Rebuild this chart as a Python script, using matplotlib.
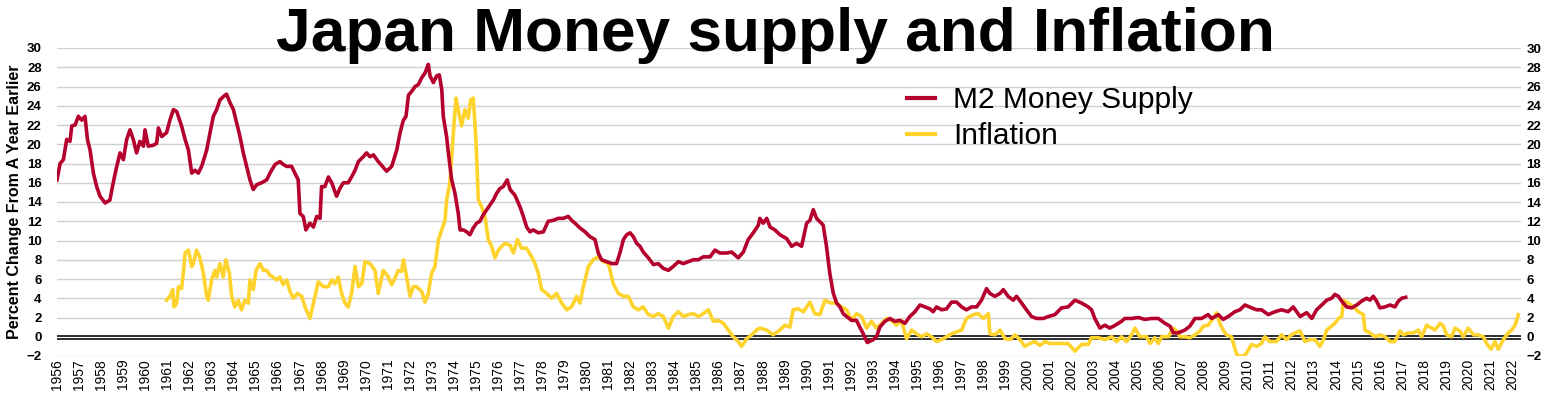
import matplotlib
matplotlib.use("Agg")
import matplotlib.pyplot as plt
import numpy as np

plt.rcParams['font.family'] = ['Liberation Sans', 'DejaVu Sans']

# M2 money supply, % change from a year earlier
m2_years = [
    1956.00, 1956.14, 1956.29, 1956.44, 1956.59, 1956.67, 1956.82, 1956.97, 1957.12, 1957.27,
    1957.38, 1957.50, 1957.65, 1957.80, 1957.95, 1958.18, 1958.40, 1958.55, 1958.71, 1958.86,
    1959.01, 1959.16, 1959.31, 1959.46, 1959.61, 1959.76, 1959.92, 1959.99, 1960.14, 1960.37,
    1960.52, 1960.60, 1960.75, 1960.97, 1961.12, 1961.28, 1961.43, 1961.65, 1961.81, 1961.96,
    1962.11, 1962.26, 1962.41, 1962.56, 1962.79, 1962.94, 1963.09, 1963.24, 1963.39, 1963.57,
    1963.69, 1963.85, 1964.00, 1964.15, 1964.30, 1964.45, 1964.60, 1964.75, 1964.90, 1965.06,
    1965.28, 1965.51, 1965.66, 1965.89, 1966.11, 1966.26, 1966.42, 1966.64, 1966.79, 1966.94,
    1967.02, 1967.17, 1967.29, 1967.47, 1967.63, 1967.78, 1967.93, 1968.00, 1968.15, 1968.31,
    1968.46, 1968.68, 1968.83, 1968.99, 1969.21, 1969.36, 1969.52, 1969.67, 1969.89, 1970.04,
    1970.20, 1970.35, 1970.57, 1970.65, 1970.95, 1971.18, 1971.41, 1971.56, 1971.71, 1971.83,
    1971.94, 1972.09, 1972.24, 1972.39, 1972.54, 1972.69, 1972.84, 1972.92, 1973.07, 1973.22,
    1973.34, 1973.45, 1973.52, 1973.67, 1973.75, 1973.90, 1974.05, 1974.20, 1974.28, 1974.43,
    1974.58, 1974.73, 1974.88, 1975.03, 1975.18, 1975.34, 1975.49, 1975.64, 1975.79, 1975.94,
    1976.09, 1976.24, 1976.42, 1976.55, 1976.77, 1977.00, 1977.15, 1977.30, 1977.45, 1977.60,
    1977.83, 1978.06, 1978.28, 1978.51, 1978.74, 1978.96, 1979.19, 1979.34, 1979.49, 1979.72,
    1979.95, 1980.17, 1980.40, 1980.55, 1980.70, 1980.93, 1981.16, 1981.38, 1981.53, 1981.69,
    1981.84, 1981.99, 1982.14, 1982.29, 1982.44, 1982.59, 1982.82, 1983.05, 1983.27, 1983.50,
    1983.73, 1983.95, 1984.18, 1984.41, 1984.63, 1984.86, 1985.09, 1985.31, 1985.62, 1985.84,
    1986.07, 1986.37, 1986.60, 1986.90, 1987.13, 1987.35, 1987.58, 1987.81, 1987.88, 1988.03,
    1988.19, 1988.34, 1988.56, 1988.79, 1989.09, 1989.32, 1989.54, 1989.77, 1990.00, 1990.15,
    1990.30, 1990.45, 1990.75, 1990.90, 1991.05, 1991.21, 1991.36, 1991.51, 1991.66, 1991.81,
    1992.04, 1992.26, 1992.41, 1992.57, 1992.75, 1993.02, 1993.17, 1993.32, 1993.55, 1993.78,
    1994.00, 1994.23, 1994.46, 1994.68, 1994.91, 1995.14, 1995.36, 1995.59, 1995.74, 1995.89,
    1996.12, 1996.35, 1996.57, 1996.80, 1997.03, 1997.25, 1997.48, 1997.71, 1997.93, 1998.16,
    1998.31, 1998.54, 1998.77, 1998.92, 1999.14, 1999.37, 1999.52, 1999.75, 1999.97, 2000.20,
    2000.43, 2000.73, 2000.96, 2001.26, 2001.56, 2001.86, 2002.17, 2002.47, 2002.77, 2002.92,
    2003.07, 2003.30, 2003.53, 2003.75, 2004.00, 2004.28, 2004.43, 2004.74, 2005.04, 2005.34,
    2005.64, 2005.95, 2006.25, 2006.48, 2006.63, 2006.85, 2007.16, 2007.38, 2007.61, 2007.91,
    2008.21, 2008.37, 2008.67, 2008.89, 2009.12, 2009.42, 2009.65, 2009.88, 2010.18, 2010.41,
    2010.63, 2010.94, 2011.24, 2011.54, 2011.84, 2012.07, 2012.38, 2012.68, 2012.91, 2013.13,
    2013.36, 2013.59, 2013.81, 2013.96, 2014.12, 2014.27, 2014.49, 2014.72, 2014.95, 2015.17,
    2015.40, 2015.55, 2015.70, 2015.85, 2016.00, 2016.23, 2016.46, 2016.68, 2016.84, 2016.99,
    2017.17,
]
m2_values = [
    16.3, 18.0, 18.4, 20.5, 20.3, 21.9, 22.0, 22.9, 22.5, 22.9,
    20.5, 19.4, 17.0, 15.6, 14.6, 13.9, 14.2, 16.0, 17.7, 19.1,
    18.4, 20.5, 21.5, 20.5, 19.1, 20.3, 19.8, 21.5, 19.8, 19.9,
    20.1, 21.7, 20.8, 21.2, 22.5, 23.6, 23.4, 21.9, 20.5, 19.4,
    17.0, 17.3, 17.0, 17.7, 19.4, 21.2, 22.9, 23.6, 24.6, 25.0,
    25.2, 24.3, 23.6, 22.2, 20.8, 19.1, 17.7, 16.3, 15.3, 15.8,
    16.0, 16.3, 17.0, 17.9, 18.2, 17.9, 17.7, 17.7, 17.0, 16.3,
    12.8, 12.5, 11.1, 11.8, 11.4, 12.5, 12.3, 15.6, 15.6, 16.6,
    16.0, 14.6, 15.4, 16.0, 16.0, 16.6, 17.3, 18.2, 18.7, 19.1,
    18.7, 18.9, 18.2, 18.0, 17.2, 17.7, 19.4, 21.2, 22.5, 22.9,
    25.1, 25.5, 26.0, 26.2, 26.9, 27.4, 28.3, 27.1, 26.4, 27.1,
    27.2, 25.7, 22.9, 20.8, 19.1, 16.3, 14.9, 12.8, 11.1, 11.1,
    10.9, 10.6, 11.3, 11.8, 12.0, 12.7, 13.2, 13.7, 14.2, 14.9,
    15.4, 15.6, 16.3, 15.3, 14.7, 13.5, 12.5, 11.4, 10.9, 11.1,
    10.8, 10.9, 12.0, 12.1, 12.3, 12.3, 12.5, 12.1, 11.8, 11.3,
    10.9, 10.4, 10.1, 8.7, 8.0, 7.8, 7.6, 7.6, 8.7, 10.1,
    10.6, 10.8, 10.4, 9.7, 9.4, 8.8, 8.2, 7.5, 7.6, 7.1,
    6.9, 7.3, 7.8, 7.6, 7.8, 8.0, 8.0, 8.3, 8.3, 9.0,
    8.7, 8.7, 8.8, 8.2, 8.8, 10.1, 10.8, 11.6, 12.3, 11.8,
    12.3, 11.4, 11.1, 10.6, 10.2, 9.4, 9.7, 9.4, 11.8, 12.1,
    13.2, 12.3, 11.6, 9.4, 6.6, 4.5, 3.5, 3.1, 2.4, 2.1,
    1.7, 1.7, 1.0, 0.3, -0.6, -0.3, 0.0, 1.0, 1.6, 1.9,
    1.6, 1.7, 1.4, 2.1, 2.6, 3.3, 3.1, 2.9, 2.6, 3.1,
    2.8, 2.9, 3.6, 3.6, 3.1, 2.8, 3.1, 3.1, 3.8, 5.0,
    4.5, 4.2, 4.5, 4.9, 4.2, 3.8, 4.2, 3.5, 2.8, 2.1,
    1.9, 1.9, 2.1, 2.3, 3.0, 3.1, 3.8, 3.5, 3.1, 2.8,
    1.9, 0.9, 1.2, 0.9, 1.2, 1.6, 1.9, 1.9, 2.0, 1.8,
    1.9, 1.9, 1.4, 1.1, 0.4, 0.4, 0.7, 1.1, 1.9, 1.9,
    2.3, 1.9, 2.3, 1.8, 2.1, 2.6, 2.8, 3.3, 3.0, 2.8,
    2.8, 2.3, 2.6, 2.8, 2.6, 3.1, 2.1, 2.5, 1.9, 2.8,
    3.3, 3.8, 4.0, 4.4, 4.2, 3.7, 3.1, 3.0, 3.3, 3.7,
    4.0, 3.8, 4.2, 3.7, 3.0, 3.1, 3.3, 3.1, 3.7, 4.0,
    4.1,
]

# CPI inflation, % change from a year earlier
infl_years = [
    1960.97, 1961.12, 1961.25, 1961.31, 1961.43, 1961.51, 1961.65, 1961.73, 1961.81, 1961.96,
    1962.11, 1962.18, 1962.33, 1962.48, 1962.64, 1962.79, 1962.86, 1963.01, 1963.16, 1963.24,
    1963.39, 1963.54, 1963.66, 1963.82, 1963.92, 1964.07, 1964.22, 1964.37, 1964.52, 1964.68,
    1964.75, 1964.90, 1965.03, 1965.21, 1965.36, 1965.51, 1965.66, 1965.81, 1965.96, 1966.11,
    1966.26, 1966.42, 1966.57, 1966.72, 1966.90, 1967.10, 1967.25, 1967.47, 1967.63, 1967.85,
    1968.08, 1968.31, 1968.46, 1968.61, 1968.76, 1968.91, 1969.06, 1969.21, 1969.36, 1969.52,
    1969.67, 1969.82, 1969.97, 1970.20, 1970.42, 1970.57, 1970.80, 1971.03, 1971.18, 1971.33,
    1971.48, 1971.63, 1971.71, 1971.86, 1972.01, 1972.16, 1972.31, 1972.54, 1972.69, 1972.84,
    1972.99, 1973.14, 1973.30, 1973.45, 1973.60, 1973.67, 1973.82, 1973.90, 1974.01, 1974.10,
    1974.20, 1974.35, 1974.50, 1974.65, 1974.76, 1974.88, 1975.00, 1975.11, 1975.26, 1975.41,
    1975.56, 1975.71, 1975.86, 1976.02, 1976.17, 1976.32, 1976.55, 1976.70, 1976.88, 1977.07,
    1977.30, 1977.53, 1977.68, 1977.83, 1977.98, 1978.21, 1978.44, 1978.66, 1978.89, 1979.12,
    1979.34, 1979.57, 1979.72, 1979.87, 1980.10, 1980.32, 1980.55, 1980.78, 1981.01, 1981.23,
    1981.46, 1981.69, 1981.91, 1982.14, 1982.37, 1982.59, 1982.82, 1983.05, 1983.27, 1983.50,
    1983.73, 1983.95, 1984.18, 1984.41, 1984.63, 1984.86, 1985.09, 1985.31, 1985.54, 1985.77,
    1986.00, 1986.22, 1986.45, 1986.67, 1986.90, 1987.05, 1987.28, 1987.51, 1987.73, 1987.88,
    1988.18, 1988.48, 1988.79, 1989.01, 1989.24, 1989.39, 1989.62, 1989.85, 1990.15, 1990.37,
    1990.60, 1990.83, 1990.98, 1991.13, 1991.36, 1991.58, 1991.81, 1992.04, 1992.26, 1992.49,
    1992.72, 1992.94, 1993.17, 1993.40, 1993.62, 1993.85, 1994.08, 1994.30, 1994.53, 1994.76,
    1994.99, 1995.21, 1995.44, 1995.67, 1995.89, 1996.12, 1996.35, 1996.57, 1996.80, 1997.03,
    1997.25, 1997.56, 1997.78, 1998.01, 1998.24, 1998.31, 1998.54, 1998.77, 1999.00, 1999.22,
    1999.45, 1999.67, 1999.90, 2000.13, 2000.35, 2000.58, 2000.81, 2001.03, 2001.26, 2001.86,
    2002.17, 2002.47, 2002.77, 2002.92, 2003.23, 2003.53, 2003.83, 2004.06, 2004.28, 2004.51,
    2004.74, 2004.89, 2005.11, 2005.42, 2005.57, 2005.79, 2005.95, 2006.10, 2006.40, 2006.63,
    2006.78, 2006.93, 2007.16, 2007.38, 2007.61, 2007.84, 2007.99, 2008.21, 2008.44, 2008.59,
    2008.74, 2008.89, 2009.04, 2009.27, 2009.42, 2009.54, 2009.80, 2009.95, 2010.18, 2010.41,
    2010.63, 2010.78, 2011.01, 2011.31, 2011.54, 2011.77, 2011.99, 2012.15, 2012.38, 2012.60,
    2012.83, 2013.06, 2013.28, 2013.44, 2013.59, 2013.81, 2013.96, 2014.12, 2014.27, 2014.34,
    2014.57, 2014.80, 2015.02, 2015.25, 2015.32, 2015.55, 2015.78, 2016.00, 2016.23, 2016.46,
    2016.68, 2016.91, 2017.06, 2017.29, 2017.52, 2017.74, 2017.89, 2018.12, 2018.35, 2018.50,
    2018.73, 2018.88, 2019.03, 2019.25, 2019.41, 2019.63, 2019.78, 2020.01, 2020.24, 2020.46,
    2020.69, 2020.84, 2021.04, 2021.22, 2021.37, 2021.60, 2021.82, 2021.98, 2022.13, 2022.28,
]
infl_values = [
    3.8, 4.2, 4.9, 3.1, 3.5, 5.2, 5.0, 6.6, 8.7, 9.0,
    7.3, 7.6, 9.0, 8.2, 6.6, 4.2, 3.8, 5.9, 6.9, 6.2,
    7.6, 6.2, 8.0, 6.6, 4.2, 3.1, 3.8, 2.8, 3.8, 3.5,
    5.9, 4.9, 6.9, 7.6, 6.9, 6.9, 6.4, 6.2, 5.9, 6.2,
    5.4, 5.9, 4.7, 4.0, 4.5, 4.2, 3.1, 1.9, 3.5, 5.7,
    5.2, 5.2, 5.9, 5.5, 6.2, 4.5, 3.5, 3.1, 4.5, 7.3,
    5.2, 5.5, 7.8, 7.6, 6.9, 4.5, 6.9, 6.2, 5.4, 6.1,
    6.9, 6.8, 8.0, 6.2, 4.2, 5.2, 5.2, 4.7, 3.6, 4.5,
    6.6, 7.3, 10.1, 11.1, 12.1, 14.2, 16.0, 18.7, 22.2, 24.8,
    23.6, 21.9, 23.6, 22.7, 24.6, 24.8, 20.5, 14.2, 13.5, 12.5,
    10.1, 9.4, 8.2, 9.0, 9.4, 9.7, 9.5, 8.7, 10.1, 9.2,
    9.2, 8.3, 7.6, 6.6, 4.9, 4.5, 4.0, 4.5, 3.5, 2.8,
    3.1, 4.2, 3.5, 5.2, 7.3, 8.0, 8.3, 7.8, 7.6, 5.5,
    4.5, 4.2, 4.2, 3.1, 2.8, 3.1, 2.3, 2.1, 2.4, 2.1,
    0.9, 2.1, 2.6, 2.1, 2.3, 2.4, 2.1, 2.4, 2.8, 1.6,
    1.7, 1.4, 0.7, 0.0, -0.5, -1.0, -0.2, 0.2, 0.7, 0.9,
    0.7, 0.2, 0.7, 1.2, 1.0, 2.8, 2.9, 2.6, 3.6, 2.4,
    2.3, 3.8, 3.6, 3.5, 3.5, 3.1, 2.8, 1.7, 2.4, 2.1,
    0.9, 1.6, 0.9, 1.4, 1.9, 1.7, 1.2, 1.7, -0.2, 0.7,
    0.3, 0.0, 0.3, 0.0, -0.5, -0.3, 0.0, 0.3, 0.5, 0.7,
    1.9, 2.3, 2.4, 1.9, 2.4, 0.3, 0.2, 0.7, -0.2, -0.3,
    0.2, -0.3, -1.0, -0.7, -0.5, -0.9, -0.5, -0.7, -0.7, -0.7,
    -1.5, -0.8, -0.8, -0.1, -0.1, -0.3, 0.0, -0.5, 0.0, -0.5,
    0.2, 0.9, 0.0, 0.0, -0.7, -0.1, -0.7, 0.0, 0.0, 0.9,
    0.6, 0.0, 0.0, -0.1, 0.2, 0.6, 1.1, 1.2, 1.9, 2.5,
    1.4, 0.7, 0.2, 0.0, -1.2, -2.0, -2.0, -1.7, -0.8, -1.0,
    -0.7, 0.0, -0.5, -0.5, 0.2, -0.3, 0.2, 0.4, 0.6, -0.5,
    -0.3, -0.3, -1.0, -0.3, 0.7, 1.1, 1.4, 1.9, 2.1, 3.8,
    3.5, 3.1, 2.6, 2.3, 0.7, 0.4, 0.0, 0.2, 0.0, -0.5,
    -0.5, 0.6, 0.2, 0.4, 0.4, 0.7, 0.0, 1.2, 0.9, 0.7,
    1.4, 1.1, 0.2, 0.0, 0.9, 0.6, 0.0, 0.9, 0.2, 0.2,
    0.0, -0.7, -1.3, -0.5, -1.3, -0.3, 0.4, 0.7, 1.2, 2.3,
]

tick_years = list(range(1956, 2023))
y_ticks = list(range(-2, 31, 2))

m2_color = '#B5002D'
infl_color = '#FFD32E'

fig = plt.figure(figsize=(15.45, 3.94), dpi=100)
ax = fig.add_axes([57 / 1545, 38 / 394, 1464 / 1545, 308 / 394])

ax.plot(m2_years, m2_values, color=m2_color, lw=2.6, label='M2 Money Supply', zorder=4)
ax.plot(infl_years, infl_values, color=infl_color, lw=2.6, label='Inflation', zorder=3)

# double black rule at zero
ax.axhline(0, color='black', lw=3.3, zorder=2)
ax.axhline(0, color='white', lw=1.0, zorder=2)

ax.set_xlim(1956, 2022.4)
ax.set_ylim(-2, 30)
ax.set_yticks(y_ticks)
ax.set_xticks(tick_years)
ax.set_xticklabels([str(y) for y in tick_years], rotation=90, fontsize=10)
ax.tick_params(axis='x', length=0, pad=2)
ax.tick_params(axis='y', length=0, pad=11)
for lbl in ax.get_yticklabels():
    lbl.set_fontweight('bold')
    lbl.set_fontsize(9.5)
ax.yaxis.grid(True, color='#d0d0d0', lw=1.0, zorder=0)
ax.set_axisbelow(True)
for s in ax.spines.values():
    s.set_visible(False)

ax2 = ax.twinx()
ax2.set_ylim(-2, 30)
ax2.set_yticks(y_ticks)
ax2.tick_params(axis='y', length=0, pad=4)
for lbl in ax2.get_yticklabels():
    lbl.set_fontweight('bold')
    lbl.set_fontsize(9.5)
for s in ax2.spines.values():
    s.set_visible(False)

ax.set_ylabel('Percent Change From A Year Earlier', fontsize=11.5, fontweight='bold', labelpad=3)

leg = ax.legend(loc='upper left', bbox_to_anchor=(0.5806, 0.876), frameon=False,
                fontsize=21.5, handlelength=0.95, handletextpad=0.6,
                labelspacing=0.26, borderpad=0, borderaxespad=0)
for h in leg.get_lines():
    h.set_linewidth(3)

fig.text(0.5016, 1 - 51 / 394, 'Japan Money supply and Inflation', ha='center',
         va='baseline', fontsize=44.8, fontweight='bold')

fig.savefig('out.png', dpi=100)
